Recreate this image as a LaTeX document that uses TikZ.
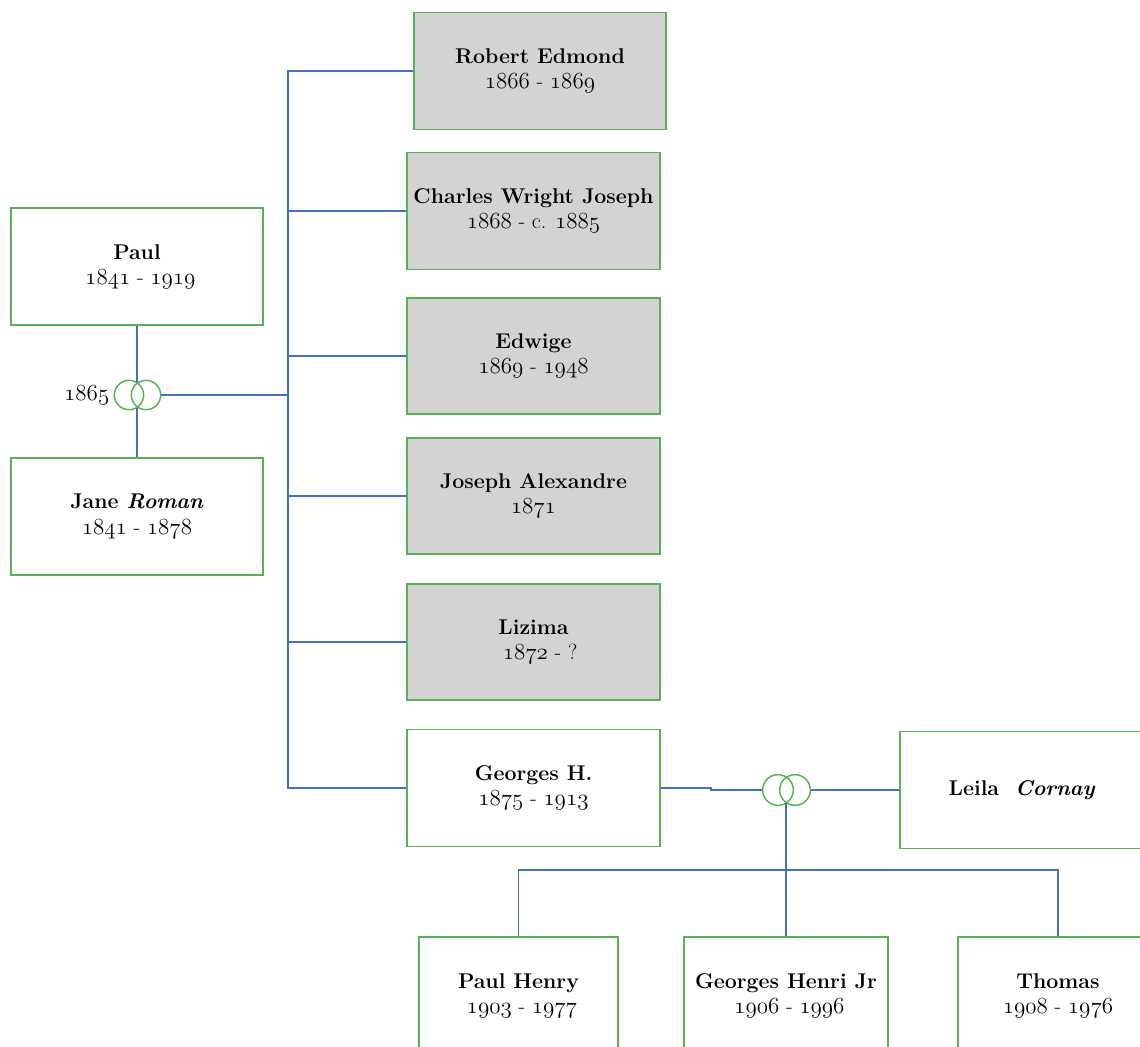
\documentclass[tikz,border=0pt]{standalone}
\usepackage{tikz}
\definecolor{boxgreen}{RGB}{86,178,82}
\definecolor{linkblue}{RGB}{68,114,186}
\definecolor{deadgray}{RGB}{211,211,211}
% old-style figures for the years
\newcommand\yr[1]{{\usefont{OML}{lmm}{m}{it}#1}}
\newcommand\nm[1]{{\bfseries #1}}
% line of years, set a little larger than the names
\newcommand\dt[1]{{\fontsize{16.5}{19}\selectfont #1}}
\tikzset{
  person/.style={draw=boxgreen, line width=1.2pt, inner sep=0pt, align=center,
    minimum width=189pt, minimum height=87.75pt,
    font=\fontsize{16}{19}\selectfont},
  deceased/.style={person, fill=deadgray},
  ring/.style={circle, draw=boxgreen, line width=1.1pt, minimum size=22pt, inner sep=0pt},
  link/.style={draw=linkblue, line width=1.2pt},
  thick link/.style={draw=linkblue, line width=1.8pt},
}
\begin{document}
\begin{tikzpicture}[x=0.75pt, y=-0.75pt]
\clip (0,0) rectangle (1140,1047);

% first generation
\node[person] (paul) at (137,266.5) {\nm{Paul}\\\dt{\ \yr{1841} - \yr{1919}}};
\node[person] (jane) at (137,516.5) {\nm{Jane \textit{Roman}}\\\dt{\yr{1841} - \yr{1878}}};

% marriage rings 1865
\node[ring] (r1a) at (129,395) {};
\node[ring] (r1b) at (146,395) {};
\coordinate (r1t) at (137,382);
\coordinate (r1d) at (137,408);
\node[font=\fontsize{16.5}{19}\selectfont, anchor=east, inner sep=3pt] (wed1) at (r1a.west) {\yr{1865}};

% children
\node[deceased, minimum width=189pt] (robert) at (540,71) {\nm{Robert Edmond}\\\dt{\yr{1866} - \yr{1869}}};
\node[deceased, minimum width=189.75pt] (charles) at (533.5,211) {\nm{Charles Wright Joseph}\\\dt{\yr{1868} - c. \yr{1885}}};
\node[deceased, minimum width=189.75pt, minimum height=87pt] (edwige) at (533.5,356) {\nm{Edwige}\\\dt{\yr{1869} - \yr{1948}}};
\node[deceased, minimum width=189.75pt, minimum height=87pt] (joseph) at (533.5,496) {\nm{Joseph Alexandre}\\\dt{\yr{1871}}};
\node[deceased, minimum width=189.75pt, minimum height=87pt] (lizima) at (533.5,642) {\nm{Lizima}\\\dt{\ \ \yr{1872} - ?}};
\node[person, minimum width=189.75pt] (georges) at (533.5,788) {\nm{Georges H.}\\\dt{\yr{1875} - \yr{1913}}};

% spouse of Georges H.
\node[person, minimum width=183pt] (leila) at (1022,790) {\nm{Leila \ \textit{Cornay}}};

% marriage rings of Georges H.
\node[ring, minimum size=23pt] (r2a) at (778,790) {};
\node[ring, minimum size=23pt] (r2b) at (795,790) {};
\coordinate (r2d) at (786,803);
\coordinate (bar) at (786,870);
\coordinate (step) at (711,790);

% grandchildren
\node[person, minimum width=149.25pt] (paulh) at (518.5,995.5) {\nm{Paul Henry}\\\dt{\ \yr{1903} - \yr{1977}}};
\node[person, minimum width=153pt] (gjr) at (786,995.5) {\nm{Georges Henri Jr}\\\dt{\ \yr{1906} - \yr{1996}}};
\node[person, minimum width=150pt] (thomas) at (1058,995.5) {\nm{Thomas}\\\dt{\yr{1908} - \yr{1976}}};

% connectors, first family
\coordinate (sp) at (288,395);
\draw[link] (paul.south) -- (r1t);
\draw[link] (r1d) -- (jane.north);
\draw[thick link] (r1b.east) -- (sp);
\draw[link] (robert.west) -| (sp) |- (georges.west);
\draw[link] (charles.west) -- (charles.west -| sp);
\draw[link] (edwige.west) -- (edwige.west -| sp);
\draw[link] (joseph.west) -- (joseph.west -| sp);
\draw[link] (lizima.west) -- (lizima.west -| sp);

% connectors, second family
\draw[link] (georges.east) -- (georges.east -| step) -- (step) -- (r2a.west);
\draw[link] (r2b.east) -- (leila.west);
\draw[link] (r2d) -- (gjr.north);
\draw[link] (paulh.north) |- (bar) -| (thomas.north);
\end{tikzpicture}
\end{document}
